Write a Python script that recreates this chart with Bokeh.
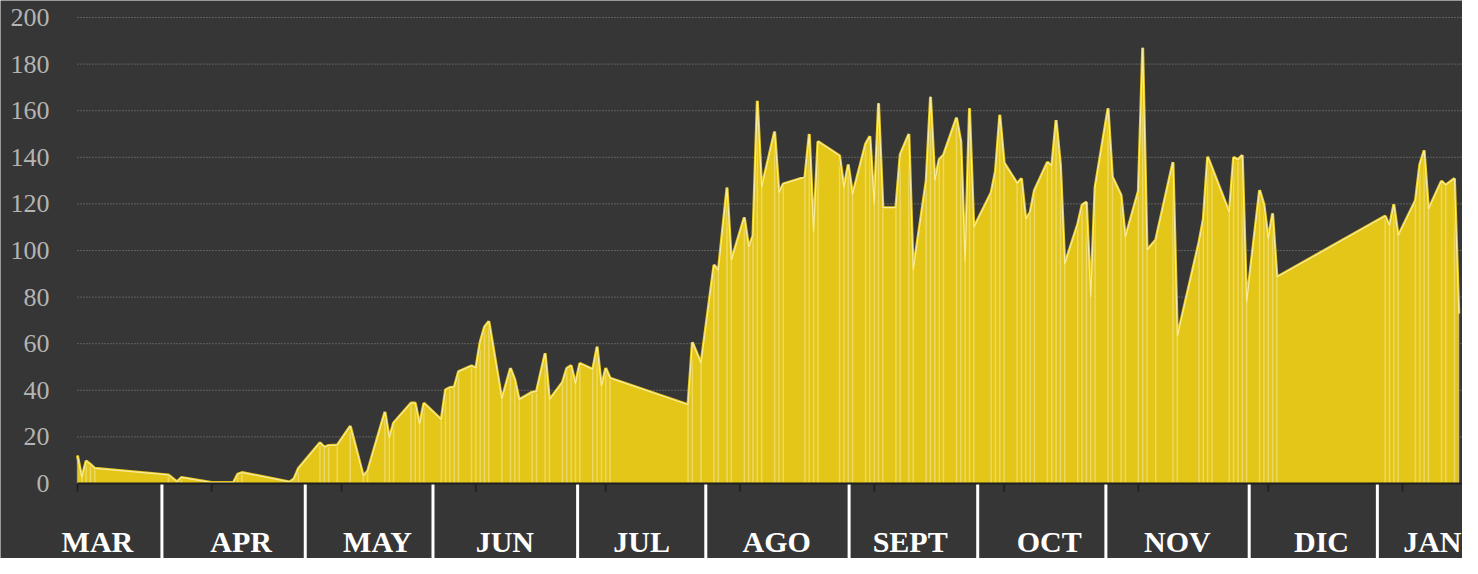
from bokeh.plotting import figure
from bokeh.models import ColumnDataSource
from bokeh.core.properties import value
from bokeh.embed import file_html
from bokeh.resources import INLINE

# Days since 1 March, and daily values
days = [0, 1, 2, 3, 4, 21, 23, 24, 31, 36, 37, 38, 49, 50, 51, 56, 57, 58, 60, 63,
        66, 67, 71, 72, 73, 77, 78, 79, 80, 84, 85, 86, 87, 88, 91, 92, 93, 94, 95, 98,
        100, 101, 102, 105, 106, 108, 109, 112, 113, 114, 115, 116, 119, 120, 121, 122, 123,
        141, 142, 144, 147, 148, 150, 151, 154, 155, 156, 157, 158, 161, 162, 163,
        168, 169, 170, 171, 176, 177, 178, 179, 182, 183, 184, 185, 186, 189, 190, 192, 193,
        196, 197, 198, 199, 200, 203, 204, 205, 206, 207, 211, 212, 213, 214,
        217, 218, 219, 220, 221, 224, 225, 226, 227, 228, 231, 232, 233, 234, 235,
        238, 239, 241, 242, 245, 246, 247, 249, 253, 254, 259, 260, 261, 262,
        266, 267, 268, 269, 270, 273, 274, 275, 276, 277, 302, 303, 304, 305,
        309, 310, 311, 312, 315, 316, 318, 319]
cases = [12, 2.5, 9.7, 8.2, 6.5, 3.7, 0.7, 2.6, 0.4, 0.4, 4, 4.7, 0.7, 2, 6.4,
         17.5, 15.6, 16.3, 16.5, 24.6, 3.3, 5.3, 30.7, 19.6, 26, 34.5, 34.5, 25.3, 34.5,
         27.4, 40.2, 41.2, 41.4, 48, 50.5, 49.5, 60.8, 67.2, 69.6, 36.2, 49.5, 44.5, 36,
         39.2, 39.5, 55.9, 36, 43.4, 49.5, 50.6, 42.8, 51.6, 49, 58.7, 41.7, 49.5, 45.2,
         33.8, 60.6, 51.6, 93.8, 91.4, 127, 95.7, 114.2, 101.4, 106.3, 164.2, 127,
         151, 124.8, 128.6, 131.5, 150, 108, 146.8, 140.7, 127, 136.9, 124,
         145.7, 149, 119.8, 163.2, 118.4, 118.4, 141.2, 150, 91.4,
         129.8, 166, 130, 139, 141, 157, 146.8, 95, 161, 109.9, 124.8, 134, 158.2, 137.6,
         128.8, 130.9, 113.4, 116.3, 125.8, 137.9, 136.2, 156, 136.9, 94.2,
         111.3, 119.5, 120.8, 80, 127, 161, 131.6, 123.8, 105.6, 125.5, 187, 100.2, 104.5,
         137.9, 63, 103.5, 113.4, 140.2, 135.5, 116.3, 140, 139, 140.9, 77.6,
         125.9, 119.8, 104.9, 115.9, 88.6, 114.8, 110.6, 119.8, 106.3,
         121.5, 136.9, 143, 117.7, 129.8, 128.1, 130.9, 72.9]

month_names = ["MAR", "APR", "MAY", "JUN", "JUL", "AGO", "SEPT", "OCT", "NOV", "DIC", "JAN"]
month_label_pos = [4.6, 37.8, 69.3, 98.7, 130.3, 161.5, 192.3, 224.4, 254.0, 287.3, 312.9]
month_starts = [0, 31, 61, 92, 122, 153, 184, 214, 245, 275, 306]
separators = [19.5, 52.6, 82.1, 115.5, 145.1, 178.2, 207.9, 237.5, 270.6, 300.2]
y_ticks = [0, 20, 40, 60, 80, 100, 120, 140, 160, 180, 200]
y_tick_labels = [str(t) for t in y_ticks]

X_START, X_END = -17.78, 319.86
Y_BOTTOM, Y_TOP = -32.19, 207.3

BG = "#363636"
YELLOW = "#E4C618"

src = ColumnDataSource(dict(x=days, y=cases, base=[0] * len(days)))

p = figure(width=1462, height=558, x_range=(X_START, X_END), y_range=(Y_BOTTOM, Y_TOP),
           output_backend="svg", toolbar_location=None,
           x_axis_location=None, y_axis_location=None,
           min_border=0, min_border_left=0, min_border_right=0,
           min_border_top=0, min_border_bottom=0,
           background_fill_color=BG, border_fill_color=BG, outline_line_color=None)
p.grid.visible = False

# dotted horizontal grid lines, starting at the first day
grid_y = y_ticks[1:]
p.segment(x0=[0] * len(grid_y), y0=grid_y, x1=[X_END] * len(grid_y), y1=grid_y,
          line_color="#8a8a8a", line_dash="1 2", line_width=1)

# y tick labels
p.text(x=[0] * len(y_ticks), y=y_ticks, text=y_tick_labels, x_offset=-28,
       text_align="right", text_baseline="middle", text_font=value("Liberation Serif"),
       text_font_size="26px", text_color="#b4b4b4")

# area
p.varea(x="x", y1="base", y2="y", source=src, fill_color=YELLOW)
p.segment(x0="x", y0="base", x1="x", y1="y", source=src,
          line_color="white", line_alpha=0.32, line_width=1.5)
p.line(x="x", y="y", source=src, line_color=YELLOW, line_width=3)
p.line(x="x", y="y", source=src, line_color="#fff8d0", line_alpha=0.75, line_width=1.2)

# x axis decorations
p.segment(x0=separators, y0=[0] * len(separators), x1=separators,
          y1=[Y_BOTTOM] * len(separators), line_color="white", line_width=3)
p.segment(x0=month_starts, y0=[0] * len(month_starts), x1=month_starts,
          y1=[-3.43] * len(month_starts), line_color="#222222", line_width=2)
p.segment(x0=[0], y0=[0], x1=[X_END], y1=[0], line_color="#1f1f1f", line_width=2)

p.text(x=month_label_pos, y=[-24.9] * len(month_names), text=month_names,
       text_align="center", text_baseline="alphabetic", text_font=value("Liberation Serif"),
       text_font_style="bold", text_font_size="30px", text_color="white")

open("out.html", "w").write(file_html(p, INLINE))
